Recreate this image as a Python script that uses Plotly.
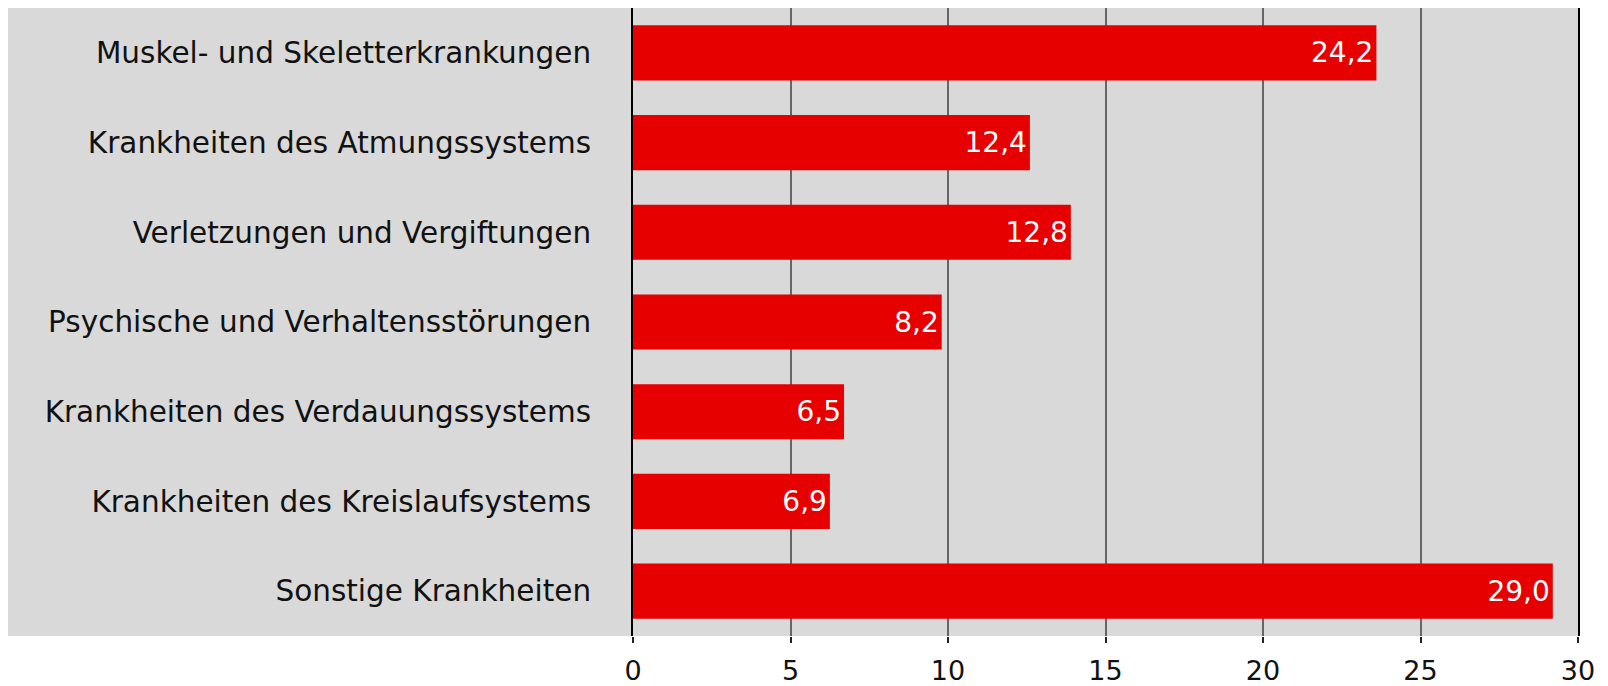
import plotly.graph_objects as go

categories = [
    "Muskel- und Skeletterkrankungen",
    "Krankheiten des Atmungssystems",
    "Verletzungen und Vergiftungen",
    "Psychische und Verhaltensstörungen",
    "Krankheiten des Verdauungssystems",
    "Krankheiten des Kreislaufsystems",
    "Sonstige Krankheiten",
]
bar_values = [23.6, 12.6, 13.9, 9.8, 6.7, 6.25, 29.2]
value_labels = ["24,2", "12,4", "12,8", "8,2", "6,5", "6,9", "29,0"]
x_ticks = [0, 5, 10, 15, 20, 25, 30]

# page body has an 8px margin, so the figure is 8px smaller than the window
W, H = 1600, 678
ML, MR, MT, MB = 625, 30, 0, 50
GRAY = "#d9d9d9"
RED = "#e60000"
FONT = "DejaVu Sans"

fig = go.Figure(
    go.Bar(
        y=categories,
        x=bar_values,
        orientation="h",
        marker=dict(color=RED, line=dict(width=0)),
        text=value_labels,
        textposition="inside",
        insidetextanchor="end",
        textangle=0,
        constraintext="none",
        textfont=dict(family=FONT, size=28, color="white"),
        hoverinfo="skip",
    )
)

plot_w = W - ML - MR
fig.add_shape(
    type="rect", xref="paper", yref="paper",
    x0=-ML / plot_w, x1=1, y0=0, y1=1,
    fillcolor=GRAY, line=dict(width=0), layer="below",
)

fig.update_layout(
    width=W, height=H,
    margin=dict(l=ML, r=MR, t=MT, b=MB, autoexpand=False),
    paper_bgcolor="white",
    plot_bgcolor=GRAY,
    bargap=0.385,
    showlegend=False,
    font=dict(family=FONT, color="#111111"),
    xaxis=dict(
        range=[0, 30],
        tickvals=x_ticks,
        ticktext=[str(v) for v in x_ticks],
        showgrid=True, gridcolor="#666666", gridwidth=2,
        zeroline=False,
        showline=False,
        ticks="outside", ticklen=6, tickwidth=2, tickcolor="#222222",
        tickfont=dict(family=FONT, size=27, color="#111111"),
        ticklabelstandoff=5,
        automargin=False,
        fixedrange=True,
    ),
    yaxis=dict(
        autorange="reversed",
        showgrid=False,
        zeroline=False,
        showline=True, mirror=True, linecolor="black", linewidth=2,
        ticks="",
        ticklabelstandoff=34,
        automargin=False,
        tickfont=dict(family=FONT, size=29.5, color="#111111"),
        fixedrange=True,
    ),
)

fig.write_html("out.html")
